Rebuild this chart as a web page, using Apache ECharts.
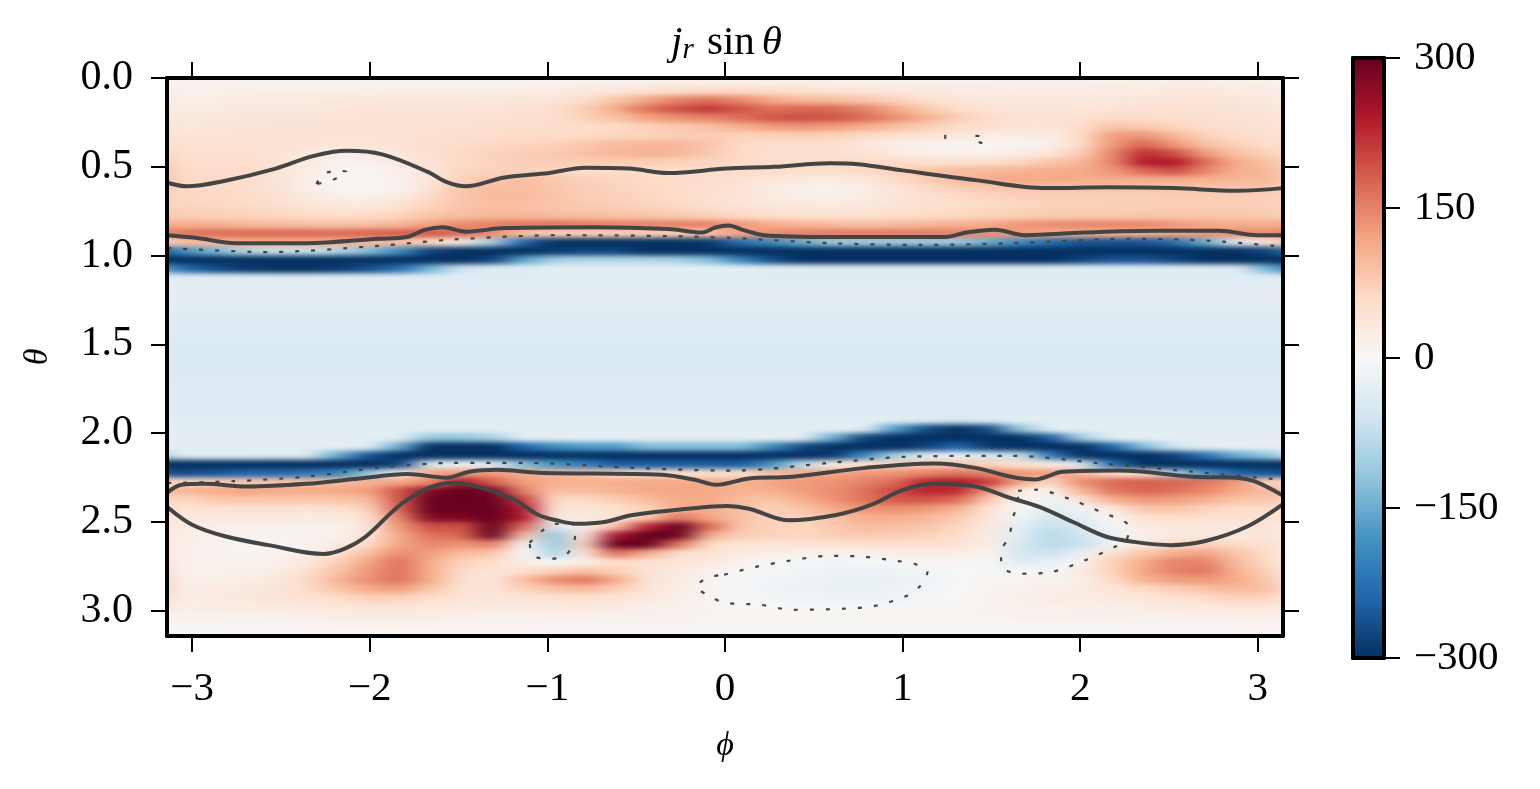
<!DOCTYPE html>
<html><head><meta charset="utf-8">
<script src="https://cdn.jsdelivr.net/npm/echarts@6/dist/echarts.min.js"></script>
<style>html,body{margin:0;padding:0;background:#fff}#c{width:1540px;height:789px}</style>
</head><body>
<svg width="0" height="0" style="position:absolute"><filter id="soft" x="0" y="0" width="100%" height="100%" color-interpolation-filters="sRGB"><feGaussianBlur stdDeviation="12 2.4"/></filter></svg>
<div id="c"></div>
<script>
// j_r sin(theta), one list per theta row (0.05 wide), 36 phi columns each
const row00=[8,8,8,8,8,8,10,10,10,10,10,10,12,12,14,14,16,18,18,18,18,16,16,14,14,14,14,14,14,14,16,18,20,20,18,16];
const row01=[14,16,18,18,18,18,20,22,22,22,22,24,26,30,38,48,56,62,62,58,52,48,42,36,30,28,26,24,24,24,26,28,30,30,28,26];
const row02=[20,22,26,28,28,30,30,32,32,32,34,36,42,55,85,120,150,165,145,115,100,95,85,70,50,40,35,30,30,30,32,36,38,38,36,32];
const row03=[26,28,32,34,34,36,38,38,38,38,40,44,52,75,115,165,195,215,190,165,175,170,150,115,80,55,42,36,36,38,42,44,46,44,42,38];
const row04=[30,32,36,38,38,40,42,42,42,44,46,50,55,70,90,120,140,150,165,190,195,190,170,140,105,75,55,45,45,48,60,55,52,50,46,42];
const row05=[35,36,40,42,42,42,44,44,46,48,52,54,55,55,60,70,80,90,110,125,135,125,110,95,75,60,50,40,40,55,85,80,65,55,50,46];
const row06=[40,40,42,44,44,40,42,46,48,52,55,58,58,60,65,70,75,75,70,70,75,70,60,50,40,35,25,22,25,60,125,135,100,70,58,50];
const row07=[45,45,45,45,42,35,38,45,52,58,62,66,70,80,95,100,100,85,60,55,55,50,35,22,12,8,5,8,18,60,130,175,130,90,70,55];
const row08=[50,50,48,45,35,22,25,38,50,62,70,75,80,90,100,105,100,80,60,50,50,50,42,30,18,15,15,25,40,75,145,220,195,125,90,70];
const row09=[52,52,52,48,30,12,14,28,45,60,70,75,75,75,75,75,70,65,60,55,55,58,60,60,50,50,55,65,85,100,145,240,240,170,110,90];
const row10=[58,58,55,45,22,6,5,18,40,65,70,72,65,55,55,55,55,55,55,55,52,52,62,70,85,95,100,105,110,115,130,170,195,145,110,100];
const row11=[62,62,55,40,20,5,3,12,35,70,85,90,80,70,65,60,58,55,48,35,28,25,35,55,75,95,110,115,115,110,110,110,110,105,100,100];
const row12=[62,60,55,42,22,8,4,14,45,85,95,95,85,75,70,62,55,50,40,25,15,12,20,40,60,72,80,85,85,85,85,85,85,85,85,85];
const row13=[65,62,58,48,32,18,15,30,60,85,95,95,88,75,72,65,55,48,38,28,20,18,25,38,50,58,65,70,72,72,72,72,75,75,75,72];
const row14=[68,65,62,55,42,35,35,50,70,85,92,90,85,80,75,70,62,55,45,38,32,30,35,42,48,52,60,66,70,70,72,72,74,74,74,72];
const row15=[75,72,70,65,58,55,58,68,85,95,100,100,95,90,88,85,78,72,62,55,50,50,50,55,60,65,70,75,78,78,80,82,85,85,82,78];
const row16=[110,105,100,95,90,88,90,100,125,140,150,160,160,155,150,150,150,150,130,110,100,95,90,95,100,105,115,130,140,145,145,145,130,115,112,110];
const row17=[160,165,170,170,170,170,175,180,185,170,140,90,70,70,70,70,75,90,120,140,150,155,155,155,155,150,140,125,115,110,110,110,120,135,140,140];
const row18=[90,100,110,115,115,110,100,90,60,20,-100,-240,-300,-300,-300,-300,-300,-290,-230,-190,-150,-110,-110,-110,-110,-110,-150,-190,-230,-260,-260,-260,-230,-150,-40,40];
const row19=[-190,-140,-90,-70,-70,-90,-130,-190,-280,-300,-300,-300,-290,-280,-280,-300,-300,-300,-300,-300,-300,-300,-300,-300,-300,-300,-300,-300,-300,-300,-300,-300,-300,-300,-300,-280];
const row20=[-300,-300,-300,-300,-300,-300,-300,-300,-300,-300,-280,-160,-100,-90,-90,-90,-100,-130,-200,-270,-300,-300,-300,-300,-300,-300,-300,-300,-300,-280,-260,-260,-280,-300,-300,-300];
const row21=[-230,-270,-290,-300,-300,-290,-270,-230,-140,-60,-35,-35,-30,-30,-30,-30,-30,-30,-30,-35,-35,-35,-35,-35,-35,-35,-35,-35,-35,-35,-35,-35,-35,-35,-35,-140];
const paleA=[-32,-32,-32,-32,-32,-32,-32,-32,-32,-32,-32,-32,-32,-32,-32,-32,-32,-32,-32,-32,-32,-32,-32,-32,-32,-32,-32,-32,-32,-32,-32,-32,-32,-32,-32,-32];
const paleB=[-36,-36,-36,-36,-36,-36,-36,-36,-36,-36,-36,-36,-36,-36,-36,-36,-36,-36,-36,-36,-36,-36,-36,-36,-36,-36,-36,-36,-36,-36,-36,-36,-36,-36,-36,-36];
const paleC=[-42,-42,-42,-42,-42,-42,-42,-42,-42,-42,-42,-42,-42,-42,-42,-42,-42,-42,-42,-42,-42,-42,-42,-42,-42,-42,-42,-42,-42,-42,-42,-42,-42,-42,-42,-42];
const row38=[-35,-35,-35,-35,-35,-35,-35,-35,-35,-35,-35,-35,-35,-35,-35,-35,-35,-35,-35,-35,-35,-35,-35,-35,-40,-50,-40,-35,-35,-35,-35,-35,-35,-35,-35,-35];
const row39=[-32,-32,-32,-32,-32,-32,-32,-32,-32,-32,-32,-32,-32,-32,-32,-32,-32,-32,-32,-32,-32,-32,-32,-170,-270,-300,-270,-120,-32,-32,-32,-32,-32,-32,-32,-32];
const row40=[-32,-32,-32,-32,-32,-32,-32,-32,-120,-120,-100,-32,-32,-32,-32,-32,-32,-32,-32,-32,-32,-150,-280,-300,-300,-300,-300,-300,-250,-100,-32,-32,-32,-32,-32,-32];
const row41=[-32,-32,-32,-32,-32,-32,-35,-150,-300,-300,-300,-240,-190,-170,-170,-130,-130,-130,-130,-190,-270,-300,-300,-300,-280,-240,-290,-300,-300,-300,-240,-130,-60,-32,-32,-32];
const row42=[-35,-35,-35,-40,-40,-150,-260,-300,-300,-300,-300,-300,-300,-300,-300,-300,-300,-300,-300,-300,-300,-290,-190,-100,-40,-30,-60,-70,-210,-300,-300,-300,-280,-220,-150,-120];
const row43=[-300,-300,-300,-300,-300,-300,-300,-280,-40,-20,-40,-130,-180,-210,-250,-250,-250,-250,-250,-180,-80,30,50,70,80,80,70,50,30,-50,-230,-300,-300,-300,-300,-300];
const row44=[-270,-260,-240,-240,-220,-200,-120,0,120,130,130,110,100,90,60,50,50,50,50,90,110,120,130,135,150,160,150,130,125,100,60,40,-100,-180,-240,-260];
const row45=[55,70,80,85,90,95,105,120,140,250,180,125,110,105,110,115,115,110,105,120,130,135,150,170,230,240,210,120,60,140,170,180,175,160,130,70];
const row46=[100,115,120,115,115,115,125,190,280,300,290,150,90,95,105,115,120,115,105,110,125,140,165,200,230,225,130,20,15,100,160,175,165,145,115,95];
const row47=[60,80,85,85,85,85,95,190,300,300,300,210,60,60,75,95,115,115,95,85,110,135,165,185,190,170,80,5,-15,40,110,130,125,110,85,85];
const row48=[45,45,50,50,45,50,70,180,300,300,300,240,40,40,50,70,110,110,90,70,85,115,135,140,130,105,45,-5,-30,-15,30,85,85,70,55,55];
const row49=[30,30,30,30,25,25,50,150,280,280,300,240,30,30,40,80,160,120,90,70,70,90,110,110,100,80,35,-15,-55,-35,5,50,55,50,48,50];
const row50=[25,20,15,12,12,15,40,130,195,190,300,170,-50,20,90,230,300,170,85,70,65,80,95,90,85,65,30,-30,-70,-50,-10,25,30,30,35,40];
const row51=[20,15,10,8,10,15,40,115,165,175,300,90,-110,40,250,300,300,110,75,70,65,75,80,75,70,55,25,-35,-85,-60,-15,20,30,30,32,38];
const row52=[18,12,8,8,12,25,60,120,145,135,150,10,-110,70,300,300,160,60,40,38,40,45,48,48,50,45,20,-50,-80,-70,-10,30,60,70,60,50];
const row53=[15,12,8,10,20,45,90,140,125,95,85,0,-90,40,170,110,55,45,30,20,15,15,18,22,25,20,10,-50,-65,-20,50,80,110,120,85,55];
const row54=[15,12,10,15,35,70,120,165,110,70,55,20,-5,20,60,50,40,30,10,0,-5,-8,-5,-2,5,8,3,-40,-25,10,70,110,150,150,95,60];
const row55=[15,15,15,22,45,85,130,165,110,55,40,50,70,90,70,40,28,15,2,-5,-10,-15,-18,-15,-8,0,-3,-10,-5,25,70,120,150,160,105,70];
const row56=[18,18,22,32,60,100,140,165,110,50,35,90,140,160,110,45,25,10,-2,-10,-15,-20,-22,-20,-12,-2,5,8,10,20,60,105,125,130,115,80];
const row57=[22,25,30,38,55,85,115,125,85,45,38,70,90,100,75,40,22,8,-5,-12,-18,-20,-22,-18,-10,0,8,15,20,25,40,60,75,90,100,90];
const row58=[25,28,32,38,45,58,72,72,55,40,35,40,48,50,42,32,20,8,-2,-8,-12,-15,-15,-12,-5,3,10,18,22,25,30,38,48,60,70,68];
const row59=[20,22,25,28,32,38,42,42,35,30,28,28,30,30,25,20,14,8,3,0,-2,-4,-5,-3,2,6,10,14,16,18,20,24,30,35,40,40];
const row60=[12,14,16,18,20,22,24,24,22,20,18,18,18,18,16,14,12,10,8,6,5,5,5,6,8,8,10,12,14,14,14,16,18,18,20,20];
const row61=[6,7,8,9,10,10,12,12,10,10,10,10,9,9,9,8,8,6,5,5,4,4,4,5,5,5,6,6,7,7,7,8,8,8,10,10];
const row62=[4,4,4,4,4,4,4,4,4,4,4,4,4,4,4,4,4,4,4,4,4,4,4,4,4,4,4,4,4,4,4,4,4,4,4,4];
const rows=[row00,row01,row02,row03,row04,row05,row06,row07,row08,row09,row10,row11,row12,row13,row14,row15,row16,row17,row18,row19,row20,row21,
 paleB,paleA,paleA,paleA,paleB,paleB,paleB,paleC,paleC,paleC,paleC,paleC,paleB,paleB,paleB,paleB,
 row38,row39,row40,row41,row42,row43,row44,row45,row46,row47,row48,row49,row50,row51,row52,row53,row54,row55,row56,row57,row58,row59,row60,row61,row62];

// contours, [phi, theta]
const solidA=[[-3.14,0.59],[-3.03,0.61],[-2.82,0.58],[-2.53,0.51],[-2.32,0.44],[-2.13,0.41],[-1.93,0.43],[-1.67,0.53],[-1.57,0.585],[-1.46,0.61],[-1.24,0.56],[-0.99,0.535],[-0.79,0.505],[-0.54,0.51],[-0.32,0.535],[0.01,0.51],[0.28,0.50],[0.59,0.48],[0.75,0.485],[1.00,0.52],[1.41,0.575],[1.81,0.62],[2.16,0.615],[2.53,0.62],[2.88,0.635],[3.14,0.62]];
const solidB=[[-3.14,0.885],[-2.98,0.90],[-2.75,0.93],[-2.36,0.93],[-1.95,0.905],[-1.79,0.895],[-1.69,0.855],[-1.59,0.84],[-1.46,0.865],[-1.24,0.845],[-0.73,0.84],[-0.32,0.85],[-0.13,0.87],[-0.05,0.84],[0.02,0.83],[0.10,0.855],[0.22,0.885],[0.59,0.895],[1.24,0.895],[1.36,0.87],[1.52,0.855],[1.69,0.885],[2.02,0.87],[2.43,0.86],[2.78,0.86],[3.00,0.885],[3.14,0.885]];
const solidC=[[-3.14,2.335],[-3.06,2.29],[-2.93,2.285],[-2.69,2.30],[-2.36,2.285],[-2.06,2.255],[-1.79,2.23],[-1.565,2.25],[-1.44,2.217],[-1.28,2.206],[-1.05,2.223],[-0.355,2.234],[-0.17,2.262],[-0.05,2.29],[0.135,2.255],[0.38,2.245],[0.79,2.195],[1.18,2.17],[1.41,2.195],[1.61,2.245],[1.75,2.26],[1.81,2.245],[1.90,2.217],[2.22,2.21],[2.635,2.245],[2.88,2.25],[2.98,2.27],[3.14,2.35]];
const solidD=[[-3.14,2.415],[-3.00,2.515],[-2.815,2.58],[-2.57,2.63],[-2.26,2.68],[-2.14,2.65],[-2.02,2.58],[-1.79,2.375],[-1.54,2.28],[-1.215,2.36],[-1.05,2.46],[-0.95,2.49],[-0.83,2.51],[-0.68,2.50],[-0.52,2.46],[-0.21,2.425],[0.01,2.41],[0.135,2.425],[0.36,2.49],[0.625,2.46],[0.83,2.40],[1.00,2.32],[1.18,2.285],[1.41,2.30],[1.61,2.365],[1.77,2.415],[1.96,2.50],[2.14,2.58],[2.29,2.61],[2.51,2.63],[2.71,2.605],[2.94,2.525],[3.14,2.40]];
const zeroTop=[[-3.14,0.957],[-2.57,0.98],[-1.95,0.945],[-1.54,0.91],[-0.93,0.885],[-0.32,0.89],[0.03,0.90],[0.59,0.93],[1.10,0.94],[1.61,0.93],[2.29,0.905],[2.74,0.917],[3.14,0.95]];
const zeroBottom=[[-3.14,2.28],[-2.77,2.27],[-2.36,2.245],[-1.95,2.195],[-1.54,2.167],[-1.13,2.167],[-0.52,2.195],[0.0,2.21],[0.06,2.21],[0.59,2.167],[1.00,2.133],[1.61,2.127],[2.12,2.17],[2.635,2.217],[3.14,2.262]];
const zeroBlob=[[-1.10,2.617],[-1.03,2.55],[-0.95,2.51],[-0.84,2.515],[-0.85,2.61],[-0.90,2.69],[-0.985,2.707],[-1.08,2.69],[-1.10,2.617]];
const zeroOval=[[-0.005,2.797],[0.175,2.752],[0.36,2.718],[0.585,2.69],[0.78,2.695],[0.96,2.718],[1.065,2.735],[1.14,2.78],[1.10,2.859],[1.025,2.915],[0.85,2.971],[0.67,2.988],[0.38,2.994],[0.20,2.966],[0,2.954],[-0.08,2.92],[-0.16,2.864],[-0.10,2.814],[-0.005,2.797]];
const zeroTriangle=[[1.65,2.324],[1.75,2.318],[1.937,2.369],[2.10,2.437],[2.275,2.527],[2.26,2.60],[2.185,2.645],[2.02,2.718],[1.813,2.786],[1.65,2.791],[1.56,2.752],[1.554,2.667],[1.60,2.583],[1.62,2.476],[1.65,2.392],[1.65,2.324]];
const zeroLoopLeft=[[-2.30,0.597],[-2.26,0.54],[-2.17,0.523],[-2.13,0.529],[-2.21,0.574],[-2.30,0.597]];
const zeroTickRight=[[1.24,0.32],[1.24,0.343]];
const zeroLoopRight=[[1.41,0.326],[1.465,0.332],[1.44,0.366],[1.41,0.326]];

const phiTicks=[-3,-2,-1,0,1,2,3];
const thetaTicks=[0,0.5,1,1.5,2,2.5,3];
const colourTicks=[-300,-150,0,150,300];
const rdbu=['#053061','#2166ac','#4393c3','#92c5de','#d1e5f0','#f7f7f7','#fddbc7','#f4a582','#d6604d','#b2182b','#67001f'];

const FONT='"Liberation Serif"', INK='#000', LINE='#444444', LBL=41;
const PI=Math.PI;
const nC=rows[0].length,nR=rows.length;
// one repeated ring of cells round the field so the softening has colour to draw on at the frame
const heat=[];
for(let r=-1;r<=nR;r++){const src=rows[Math.min(nR-1,Math.max(0,r))];
 for(let c=-1;c<=nC;c++){heat.push([c+1,r+1,src[(c+nC)%nC]]);}}
const cw=1116/nC,ch=177.7*0.05;

const solid=(d)=>({type:'line',xAxisIndex:1,yAxisIndex:2,data:d,showSymbol:false,symbol:'none',smooth:0.35,silent:true,zlevel:1,z:5,animation:false,clip:true,lineStyle:{color:LINE,width:4}});
const dotted=(d)=>({type:'line',xAxisIndex:1,yAxisIndex:2,data:d,showSymbol:false,symbol:'none',smooth:0.3,silent:true,zlevel:1,z:5,animation:false,clip:true,lineStyle:{color:LINE,width:2.2,type:[4,12]}});
const minus=v=>String(v).replace('-','\u2212');
const tick={show:true,length:16,inside:false,lineStyle:{color:INK,width:2}};
const frameLine={show:true,onZero:false,lineStyle:{color:INK,width:4}};

const chart=echarts.init(document.getElementById('c'),null,{renderer:'canvas',width:1540,height:789});
chart.setOption({
 animation:false,
 title:{text:'{j|j}{r|r}{s| sin}{t|\u03b8}',left:671,top:22,zlevel:1,padding:0,textStyle:{fontWeight:'normal',rich:{
   j:{fontFamily:FONT,fontStyle:'italic',fontWeight:'normal',fontSize:41,color:INK},
   r:{fontFamily:FONT,fontStyle:'italic',fontWeight:'normal',fontSize:29,color:INK,padding:[14,3,0,0]},
   s:{fontFamily:FONT,fontWeight:'normal',fontSize:41,color:INK},
   t:{fontFamily:FONT,fontStyle:'italic',fontWeight:'normal',fontSize:41,color:INK,padding:[0,0,0,7]}}}},
 visualMap:{type:'continuous',seriesIndex:0,dimension:2,min:-300,max:300,inRange:{color:rdbu},
   show:true,calculable:false,realtime:false,hoverLink:false,left:1353,top:58,itemWidth:31,itemHeight:600,padding:0,text:null,showLabel:false,zlevel:1,z:2},
 grid:[
  {left:136,top:78-ch,width:1116+2*cw,height:(nR+2)*ch,show:false},
  {left:167,top:78,width:1116,height:558,show:false},
  {left:1353,top:58,width:31,height:600,show:false}
 ],
 xAxis:[
  {type:'category',gridIndex:0,show:false,data:heat.filter(d=>d[1]===0).map(d=>d[0])},
  {type:'value',gridIndex:1,position:'bottom',min:-PI,max:PI,zlevel:1,z:6,splitLine:{show:false},axisLine:frameLine,
   axisTick:{...tick,customValues:phiTicks},
   axisLabel:{customValues:phiTicks,formatter:minus,color:INK,fontFamily:FONT,fontSize:LBL,margin:33},
   name:'\u03d5',nameLocation:'middle',nameGap:93,nameTextStyle:{fontFamily:FONT,fontStyle:'italic',fontSize:34,color:INK}},
  {type:'value',gridIndex:1,position:'top',min:-PI,max:PI,zlevel:1,z:6,splitLine:{show:false},axisLine:frameLine,
   axisTick:{...tick,customValues:phiTicks},axisLabel:{show:false}},
  {type:'value',gridIndex:2,min:0,max:1,zlevel:1,z:6,splitLine:{show:false},axisLine:frameLine,axisTick:{show:false},axisLabel:{show:false},position:'bottom'},
  {type:'value',gridIndex:2,min:0,max:1,zlevel:1,z:6,splitLine:{show:false},axisLine:frameLine,axisTick:{show:false},axisLabel:{show:false},position:'top'}
 ],
 yAxis:[
  {type:'category',gridIndex:0,show:false,inverse:true,data:heat.filter(d=>d[0]===0).map(d=>d[1])},
  {type:'value',show:false,gridIndex:0},
  {type:'value',gridIndex:1,position:'left',inverse:true,min:0,max:PI,zlevel:1,z:6,splitLine:{show:false},axisLine:frameLine,
   axisTick:{...tick,customValues:thetaTicks},
   axisLabel:{customValues:thetaTicks,formatter:v=>v.toFixed(1),color:INK,fontFamily:FONT,fontSize:42,margin:34,padding:[0,0,2,0]},
   name:'\u03b8',nameLocation:'middle',nameGap:112,nameRotate:90,nameTextStyle:{fontFamily:FONT,fontStyle:'italic',fontSize:34,color:INK}},
  {type:'value',gridIndex:1,position:'right',inverse:true,min:0,max:PI,zlevel:1,z:6,splitLine:{show:false},axisLine:frameLine,
   axisTick:{...tick,customValues:thetaTicks},axisLabel:{show:false}},
  {type:'value',gridIndex:2,position:'right',min:-300,max:300,interval:150,zlevel:1,z:6,splitLine:{show:false},axisLine:frameLine,
   axisTick:tick,axisLabel:{customValues:colourTicks,formatter:minus,color:INK,fontFamily:FONT,fontSize:LBL,margin:30,padding:[0,0,4,0]}},
  {type:'value',gridIndex:2,position:'left',min:-300,max:300,zlevel:1,z:6,splitLine:{show:false},axisLine:frameLine,axisTick:{show:false},axisLabel:{show:false}}
 ],
 series:[
  {type:'heatmap',xAxisIndex:0,yAxisIndex:0,data:heat,silent:true,progressive:0,zlevel:0,animation:false,emphasis:{disabled:true}},
  solid(solidA),solid(solidB),solid(solidC),solid(solidD),
  dotted(zeroTop),dotted(zeroBottom),dotted(zeroBlob),dotted(zeroOval),dotted(zeroTriangle),dotted(zeroLoopLeft),dotted(zeroTickRight),dotted(zeroLoopRight)
 ]
});
// soften the cell steps of the field layer only and keep it inside the frame
const base=document.querySelector('#c canvas[data-zr-dom-id="zr_0"]');
if(base){base.style.filter='url(#soft)';base.style.clipPath='inset(78px 257px 153px 167px)';}
</script>
</body></html>
